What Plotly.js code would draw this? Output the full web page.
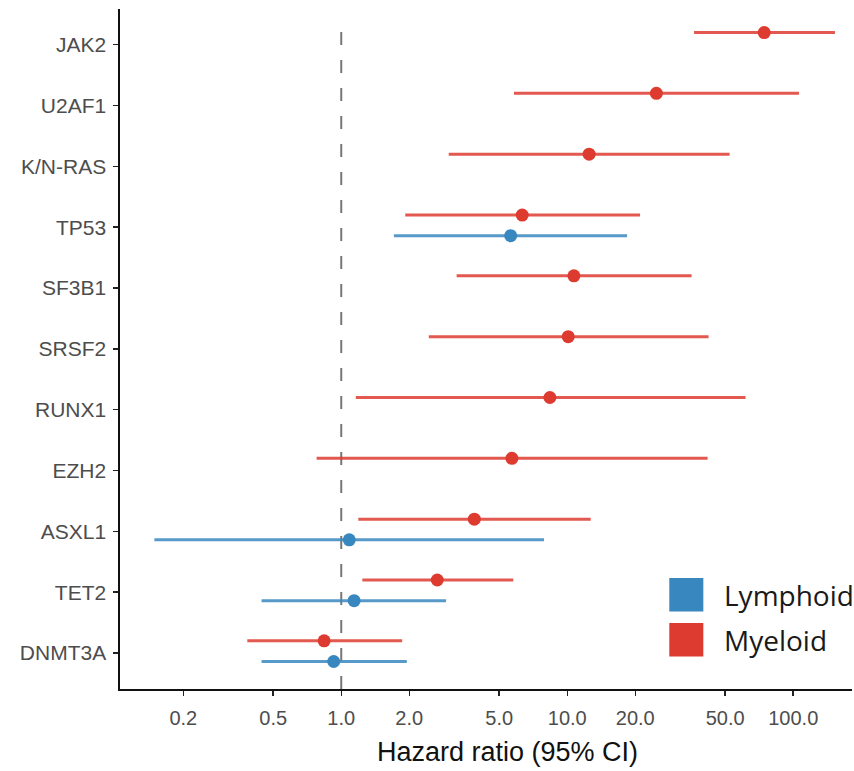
<!DOCTYPE html>
<html>
<head>
<meta charset="utf-8">
<script src="https://cdn.plot.ly/plotly-3.0.1.min.js"></script>
<style>
html,body{margin:0;padding:0;background:#fff;overflow:hidden;}
#chart{width:854px;height:771px;}
</style>
</head>
<body>
<div id="chart"></div>
<script>
// Categories, bottom to top
var genes = ['DNMT3A','TET2','ASXL1','EZH2','RUNX1','SRSF2','SF3B1','TP53','K/N-RAS','U2AF1','JAK2'];

// Myeloid hazard ratios and 95% CI
var myeloidGenes = ['DNMT3A','TET2','ASXL1','EZH2','RUNX1','SRSF2','SF3B1','TP53','K/N-RAS','U2AF1','JAK2'];
var myeloidHR    = [0.84, 2.66, 3.88, 5.69, 8.38, 10.1, 10.7, 6.32, 12.5, 24.8, 74.4];
var myeloidLo    = [0.384, 1.24, 1.19, 0.778, 1.16, 2.44, 3.24, 1.92, 2.99, 5.81, 36.4];
var myeloidHi    = [1.86, 5.77, 12.7, 41.8, 61.5, 42.2, 35.5, 21.0, 52.3, 106, 153];

// Lymphoid hazard ratios and 95% CI
var lymphoidGenes = ['DNMT3A','TET2','ASXL1','TP53'];
var lymphoidHR    = [0.926, 1.14, 1.085, 5.62];
var lymphoidLo    = [0.444, 0.444, 0.149, 1.71];
var lymphoidHi    = [1.95, 2.91, 7.89, 18.4];

// X tick labels
var xTickVals = [0.2, 0.5, 1, 2, 5, 10, 20, 50, 100];
var xTickText = ['0.2','0.5','1.0','2.0','5.0','10.0','20.0','50.0','100.0'];

var BLUE = '#3987BF', RED = '#DE3B30';
var BLUE_LINE = 'rgba(57,135,191,0.85)', RED_LINE = 'rgba(222,59,48,0.85)';
var DODGE_M = 0.2, DODGE_L = -0.14;

function yPos(list, off){ return list.map(function(g){ return genes.indexOf(g) + off; }); }
function plus(hr, hi){ return hr.map(function(v,i){ return hi[i]-v; }); }
function minus(hr, lo){ return hr.map(function(v,i){ return v-lo[i]; }); }

var traces = [
  {
    type:'scatter', mode:'markers', name:'Myeloid',
    x: myeloidHR, y: yPos(myeloidGenes, DODGE_M),
    marker:{color:RED, size:13},
    error_x:{type:'data', symmetric:false, array:plus(myeloidHR,myeloidHi), arrayminus:minus(myeloidHR,myeloidLo),
             color:RED_LINE, thickness:3, width:0},
    showlegend:false, hoverinfo:'x+name'
  },
  {
    type:'scatter', mode:'markers', name:'Lymphoid',
    x: lymphoidHR, y: yPos(lymphoidGenes, DODGE_L),
    marker:{color:BLUE, size:13},
    error_x:{type:'data', symmetric:false, array:plus(lymphoidHR,lymphoidHi), arrayminus:minus(lymphoidHR,lymphoidLo),
             color:BLUE_LINE, thickness:3, width:0},
    showlegend:false, hoverinfo:'x+name'
  }
];

var layout = {
  width:854, height:771,
  margin:{l:120, r:2, t:9, b:82},
  paper_bgcolor:'#fff', plot_bgcolor:'#fff',
  font:{family:'Liberation Sans, Arial, sans-serif', color:'#4D4D4D'},
  showlegend:false,
  xaxis:{
    type:'log', range:[-0.979, 2.26],
    tickvals:xTickVals, ticktext:xTickText,
    ticks:'outside', ticklen:5, tickwidth:1.5, tickcolor:'#222',
    tickfont:{size:20, color:'#4D4D4D'}, ticklabelstandoff:5,
    showline:true, linecolor:'#111', linewidth:1.6,
    showgrid:false, zeroline:false
  },
  yaxis:{
    range:[-0.592, 10.587],
    tickvals: genes.map(function(g,i){return i;}), ticktext: genes,
    ticks:'outside', ticklen:5, tickwidth:1.5, tickcolor:'#222',
    tickfont:{size:21, color:'#4D4D4D'}, ticklabelstandoff:3,
    showline:true, linecolor:'#111', linewidth:1.6,
    showgrid:false, zeroline:false
  },
  shapes:[
    {type:'line', xref:'x', yref:'paper', x0:1, x1:1, y0:0, y1:0.985, layer:'below',
     line:{color:'#777', width:2, dash:'13px,15px'}},
    {type:'rect', xref:'paper', yref:'paper', x0:0.7504, x1:0.7969, y0:0.1141, y1:0.1632,
     fillcolor:BLUE, line:{width:0}},
    {type:'rect', xref:'paper', yref:'paper', x0:0.7504, x1:0.7969, y0:0.0479, y1:0.0971,
     fillcolor:RED, line:{width:0}}
  ],
  annotations:[
    {text:'Hazard ratio (95% CI)', xref:'paper', yref:'paper', x:0.53, y:-0.092, xanchor:'center', yanchor:'middle',
     showarrow:false, font:{size:27, color:'#111', family:'Liberation Sans, Arial, sans-serif'}},
    {text:'Lymphoid', xref:'paper', yref:'paper', x:0.8224, y:0.1387, xanchor:'left', yanchor:'middle',
     showarrow:false, font:{size:28, color:'#1a1a1a', family:'Open Sans, sans-serif'}},
    {text:'Myeloid', xref:'paper', yref:'paper', x:0.8224, y:0.0725, xanchor:'left', yanchor:'middle',
     showarrow:false, font:{size:28, color:'#1a1a1a', family:'Open Sans, sans-serif'}}
  ]
};

Plotly.newPlot('chart', traces, layout, {staticPlot:true, displayModeBar:false});
</script>
</body>
</html>
